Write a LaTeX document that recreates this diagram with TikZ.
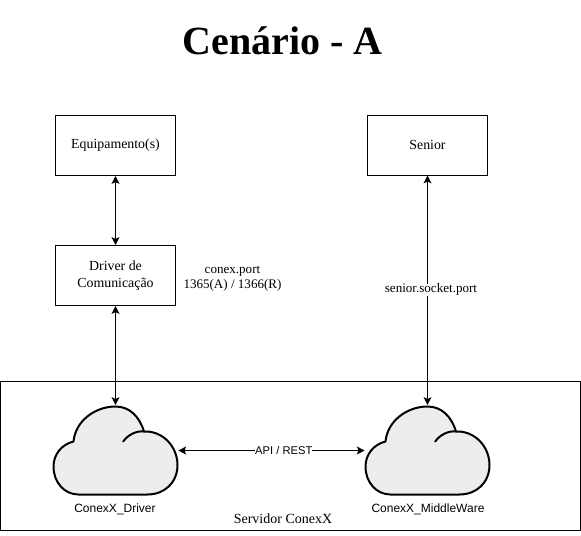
\documentclass[tikz,border=0pt]{standalone}
\usepackage{fontspec}
\setmainfont{Liberation Serif}
\setsansfont{Liberation Sans}
\usetikzlibrary{arrows.meta}
\tikzset{
  boxnode/.style={draw=black,line width=0.75pt,fill=white,minimum width=90pt,minimum height=45pt,inner sep=0pt,align=center,font=\fontsize{10.4}{13}\selectfont},
  linkline/.style={draw=black,line width=1.05pt,{Stealth[length=5.8pt,width=5.8pt,inset=1.2pt]}-{Stealth[length=5.8pt,width=5.8pt,inset=1.2pt]}},
  cloudslot/.style={minimum width=93pt,minimum height=67pt,inner sep=0pt,outer sep=0.6pt},
  cloudline/.style={draw=black,line width=1.5pt,line join=round,line cap=round},
  plainlabel/.style={inner sep=0pt,align=center,font=\fontsize{9.8}{11.25}\selectfont},
  sanslabel/.style={inner sep=0pt,align=center,font=\sffamily\fontsize{9}{10}\selectfont},
  linklabel/.style={fill=white,inner sep=0.6pt}
}
\newcommand{\cloudshape}[2]{%
  \begin{scope}[shift={(#1,#2)}]
    \path[cloudline,fill=black!7]
      (-37,44) .. controls (-51,44) and (-62,32) .. (-62,16)
      .. controls (-62,4) and (-54,-6) .. (-42,-9)
      .. controls (-40,-30) and (-20,-44) .. (0,-44)
      .. controls (14,-44) and (24,-34) .. (28.5,-19)
      .. controls (47,-20) and (62,-4) .. (62,14.5)
      .. controls (62,32) and (49,44) .. (32,44) -- cycle;
    \path[cloudline] (28.5,-19) .. controls (20,-20) and (12,-15) .. (7.7,-9);
  \end{scope}}
\begin{document}
\begin{tikzpicture}[x=0.75pt,y=-0.75pt]
\useasboundingbox (0,0) rectangle (581,535);
\fill[white] (0,0) rectangle (581,535);
\node[font=\bfseries\fontsize{30}{34}\selectfont,inner sep=0pt] (title) at (282.5,41) {Cenário - A};
\node[boxnode,minimum width=435pt,minimum height=111.75pt] (server) at (290.5,456) {};
\node[boxnode] (equip) at (115.5,145.5) {Equipamento(s)};
\node[boxnode] (driver) at (115.5,275.5) {Driver de\\Comunicação};
\node[boxnode] (senior) at (427.5,145) {Senior};
\cloudshape{115.5}{450.5}
\cloudshape{427.5}{450.5}
\node[cloudslot] (cdriver) at (115.5,450.5) {};
\node[cloudslot] (cmiddle) at (427.5,450.5) {};
\node[sanslabel] (ldriver) at (115,509) {ConexX\_Driver};
\node[sanslabel] (lmiddle) at (428,509) {ConexX\_MiddleWare};
\node[plainlabel,font=\fontsize{10.5}{12}\selectfont] (lserver) at (283,519) {Servidor ConexX};
\node[plainlabel] (lport) at (232.5,278.5) {conex.port\\1365(A) / 1366(R)};
\draw[linkline] (equip.south) -- (driver.north);
\draw[linkline] (driver.south) -- (driver.south |- cdriver.north);
\draw[linkline] (senior.south) -- (senior.south |- cmiddle.north)
  node[pos=0.49,linklabel,plainlabel,fill=white,yshift=-1.2pt,xshift=2.6pt] (lsenior) {senior.socket.port};
\draw[linkline] (cdriver.east) -- (cmiddle.west)
  node[pos=0.566,linklabel,sanslabel,font=\sffamily\fontsize{8.4}{10}\selectfont,fill=white] (lapi) {API / REST};
\end{tikzpicture}
\end{document}
